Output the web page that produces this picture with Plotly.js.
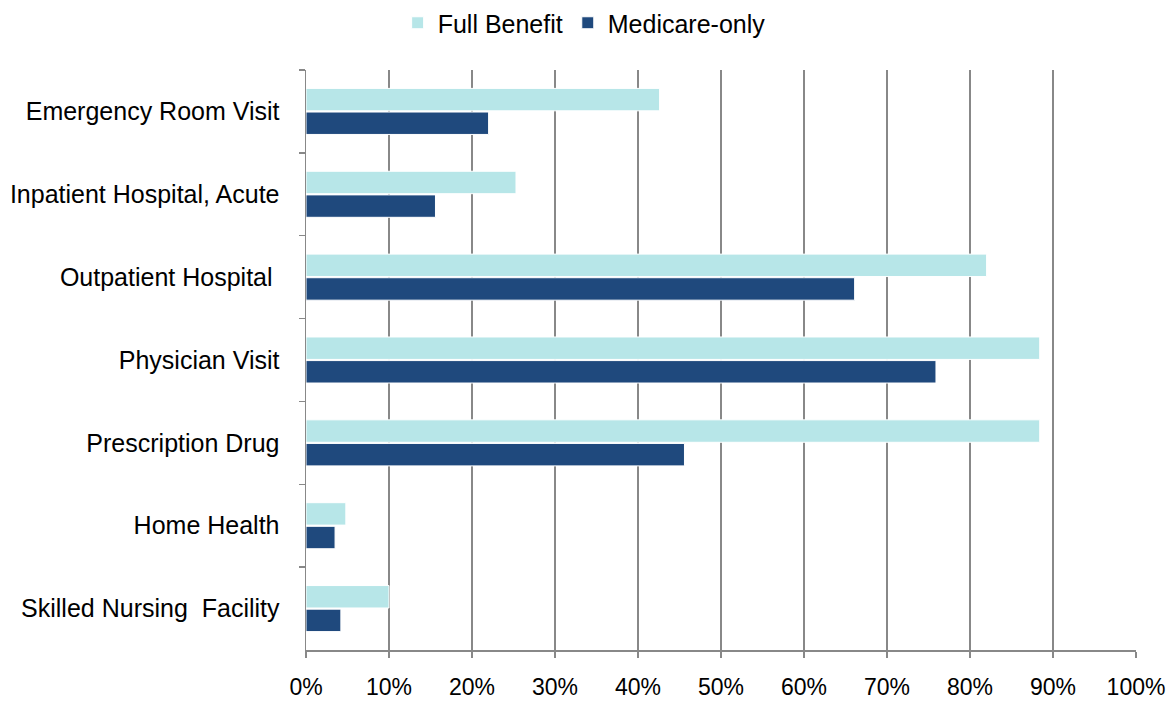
<!DOCTYPE html>
<html>
<head>
<meta charset="utf-8">
<script src="https://cdn.plot.ly/plotly-3.0.1.min.js"></script>
<style>html,body{margin:0;padding:0;background:#fff;}#chart{width:1173px;height:704px;}</style>
</head>
<body>
<div id="chart"></div>
<script>
const categories = ["Emergency Room Visit", "Inpatient Hospital, Acute", "Outpatient Hospital\u00a0", "Physician Visit", "Prescription Drug", "Home Health", "Skilled Nursing\u00a0 Facility"];
const fullBenefit = [0.426, 0.253, 0.820, 0.884, 0.884, 0.048, 0.100];
const medicareOnly = [0.220, 0.156, 0.661, 0.759, 0.456, 0.035, 0.042];
const xTickVals = [0, 0.1, 0.2, 0.3, 0.4, 0.5, 0.6, 0.7, 0.8, 0.9, 1.0];
const xTickText = ["0%", "10%", "20%", "30%", "40%", "50%", "60%", "70%", "80%", "90%", "100%"];

const font = {family: "Liberation Sans, Arial, sans-serif", color: "#000"};

const traces = [
  {type: "bar", orientation: "h", name: "Full Benefit", y: categories, x: fullBenefit,
   marker: {color: "#b7e6e8", line: {color: "#ffffff", width: 1}}, hoverinfo: "none"},
  {type: "bar", orientation: "h", name: "Medicare-only", y: categories, x: medicareOnly,
   marker: {color: "#1f497d", line: {color: "#ffffff", width: 1}}, hoverinfo: "none"}
];

const layout = {
  width: 1173, height: 704,
  margin: {l: 306, r: 37, t: 70, b: 54},
  paper_bgcolor: "#fff", plot_bgcolor: "#fff",
  font: Object.assign({size: 22}, font),
  barmode: "group",
  bargap: 0.43,
  bargroupgap: 0.05,
  showlegend: true,
  legend: {orientation: "h", xref: "container", yref: "container", x: 0.498, xanchor: "center", y: 1.0, yanchor: "top",
           font: Object.assign({size: 25}, font), traceorder: "normal", itemwidth: 30},
  xaxis: {range: [0, 1], tickvals: xTickVals, ticktext: xTickText, showgrid: true, gridcolor: "#888", gridwidth: 1.5,
          zeroline: false, showline: true, linecolor: "#888", linewidth: 1.5, ticks: "outside", ticklen: 6, tickcolor: "#888", tickwidth: 1.5,
          tickfont: Object.assign({size: 23}, font), ticklabelstandoff: 10, fixedrange: true},
  yaxis: {type: "category", autorange: "reversed", tickson: "boundaries", ticks: "outside", ticklen: 6, tickcolor: "#888", tickwidth: 1.5,
          showline: true, linecolor: "#888", linewidth: 1.5, showgrid: false, zeroline: false,
          tickfont: Object.assign({size: 25}, font), ticklabelstandoff: 20, fixedrange: true}
};

Plotly.newPlot("chart", traces, layout, {displayModeBar: false, staticPlot: true});
</script>
</body>
</html>
